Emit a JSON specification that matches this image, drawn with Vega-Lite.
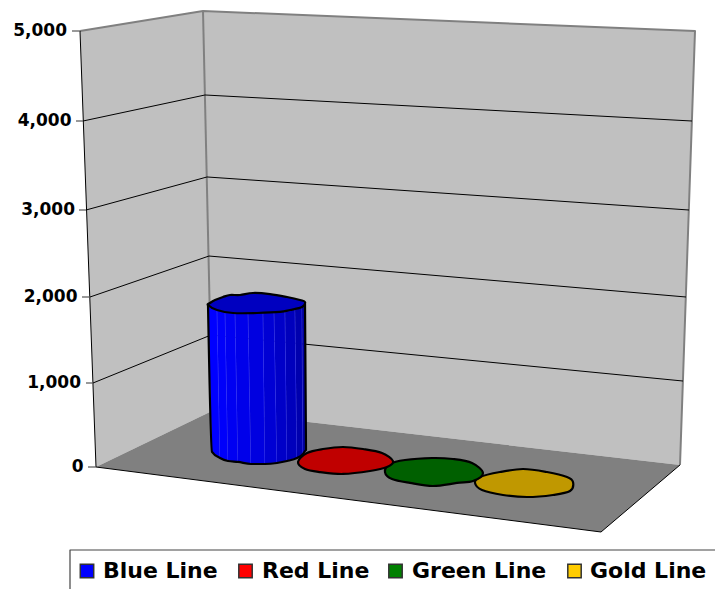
{"$schema":"https://vega.github.io/schema/vega-lite/v6.json","width":715,"height":589,"autosize":{"type":"fit","contains":"padding"},"padding":0,"background":"white","view":{"stroke":null},
"datasets":{"shapes":[
{"part":"wallL","style":"wall","x":80,"y":5000},{"part":"wallL","style":"wall","x":203,"y":5222},{"part":"wallL","style":"wall","x":212,"y":667},{"part":"wallL","style":"wall","x":96,"y":0},
{"part":"wallB","style":"wall","x":203,"y":5222},{"part":"wallB","style":"wall","x":695,"y":5000},{"part":"wallB","style":"wall","x":680,"y":24},{"part":"wallB","style":"wall","x":212,"y":667},
{"part":"floor","style":"floor","x":96,"y":0},{"part":"floor","style":"floor","x":212,"y":667},{"part":"floor","style":"floor","x":680,"y":24},{"part":"floor","style":"floor","x":601,"y":-774},
{"part":"edgeTop","style":"edge","x":80,"y":5000},{"part":"edgeTop","style":"edge","x":203,"y":5222},{"part":"edgeTop","style":"edge","x":695,"y":5000},{"part":"edgeTop","style":"edge","x":680,"y":24},
{"part":"edgeCorner","style":"edge","x":203,"y":5222},{"part":"edgeCorner","style":"edge","x":212,"y":667},
{"part":"g4","style":"line","x":83,"y":4000},{"part":"g4","style":"line","x":205,"y":4289},{"part":"g4","style":"line","x":692,"y":4000},
{"part":"g3","style":"line","x":86,"y":3000},{"part":"g3","style":"line","x":207,"y":3371},{"part":"g3","style":"line","x":689,"y":3000},
{"part":"g2","style":"line","x":90,"y":2000},{"part":"g2","style":"line","x":209,"y":2471},{"part":"g2","style":"line","x":686,"y":2000},
{"part":"g1","style":"line","x":93,"y":1000},{"part":"g1","style":"line","x":211,"y":1558},{"part":"g1","style":"line","x":683,"y":1023},
{"part":"frontL","style":"line","x":80,"y":5000},{"part":"frontL","style":"line","x":96,"y":0},{"part":"frontL","style":"line","x":601,"y":-774},{"part":"frontL","style":"line","x":680,"y":24},
{"part":"t5","style":"tick","x":72,"y":5000},{"part":"t5","style":"tick","x":80,"y":5000},
{"part":"t4","style":"tick","x":76,"y":4000},{"part":"t4","style":"tick","x":83,"y":4000},
{"part":"t3","style":"tick","x":79,"y":3000},{"part":"t3","style":"tick","x":86,"y":3000},
{"part":"t2","style":"tick","x":82,"y":2000},{"part":"t2","style":"tick","x":90,"y":2000},
{"part":"t1","style":"tick","x":86,"y":1000},{"part":"t1","style":"tick","x":93,"y":1000},
{"part":"t0","style":"tick","x":88,"y":0},{"part":"t0","style":"tick","x":96,"y":0},
{"part":"f0","style":"f0","x":208,"y":1907},{"part":"f0","style":"f0","x":217,"y":1907},{"part":"f0","style":"f0","x":220,"y":107},{"part":"f0","style":"f0","x":212,"y":179},
{"part":"f1","style":"f1","x":217,"y":1907},{"part":"f1","style":"f1","x":225,"y":1907},{"part":"f1","style":"f1","x":228,"y":71},{"part":"f1","style":"f1","x":220,"y":107},
{"part":"f2","style":"f2","x":225,"y":1907},{"part":"f2","style":"f2","x":235,"y":1907},{"part":"f2","style":"f2","x":238,"y":60},{"part":"f2","style":"f2","x":228,"y":71},
{"part":"f3","style":"f3","x":235,"y":1907},{"part":"f3","style":"f3","x":248,"y":1907},{"part":"f3","style":"f3","x":251,"y":36},{"part":"f3","style":"f3","x":238,"y":60},
{"part":"f4","style":"f4","x":248,"y":1907},{"part":"f4","style":"f4","x":263,"y":1907},{"part":"f4","style":"f4","x":265,"y":36},{"part":"f4","style":"f4","x":251,"y":36},
{"part":"f5","style":"f5","x":263,"y":1907},{"part":"f5","style":"f5","x":274,"y":1907},{"part":"f5","style":"f5","x":277,"y":48},{"part":"f5","style":"f5","x":265,"y":36},
{"part":"f6","style":"f6","x":274,"y":1907},{"part":"f6","style":"f6","x":285,"y":1907},{"part":"f6","style":"f6","x":287,"y":71},{"part":"f6","style":"f6","x":277,"y":48},
{"part":"f7","style":"f7","x":285,"y":1907},{"part":"f7","style":"f7","x":295,"y":1907},{"part":"f7","style":"f7","x":297,"y":107},{"part":"f7","style":"f7","x":287,"y":71},
{"part":"f8","style":"f8","x":295,"y":1907},{"part":"f8","style":"f8","x":302,"y":1907},{"part":"f8","style":"f8","x":303,"y":155},{"part":"f8","style":"f8","x":297,"y":107},
{"part":"f9","style":"f9","x":302,"y":1907},{"part":"f9","style":"f9","x":305,"y":1942},{"part":"f9","style":"f9","x":306,"y":202},{"part":"f9","style":"f9","x":303,"y":155},
{"part":"legendBox","style":"box","x":715,"y":-988},{"part":"legendBox","style":"box","x":70,"y":-988},{"part":"legendBox","style":"box","x":70,"y":-1452}
],
"bodyline":[
{"part":"blueOut","x":208,"y":1907},{"part":"blueOut","x":212,"y":179},{"part":"blueOut","x":220,"y":107},{"part":"blueOut","x":228,"y":71},{"part":"blueOut","x":238,"y":60},{"part":"blueOut","x":251,"y":36},{"part":"blueOut","x":265,"y":36},{"part":"blueOut","x":277,"y":48},{"part":"blueOut","x":287,"y":71},{"part":"blueOut","x":297,"y":107},{"part":"blueOut","x":303,"y":155},{"part":"blueOut","x":306,"y":202},{"part":"blueOut","x":305,"y":1942}
],
"blobs":[
{"part":"blueTop","style":"blueCap","x":208,"y":1907},{"part":"blueTop","style":"blueCap","x":210,"y":1930},{"part":"blueTop","style":"blueCap","x":215,"y":1965},{"part":"blueTop","style":"blueCap","x":223,"y":2000},{"part":"blueTop","style":"blueCap","x":230,"y":2023},{"part":"blueTop","style":"blueCap","x":240,"y":2023},{"part":"blueTop","style":"blueCap","x":253,"y":2046},{"part":"blueTop","style":"blueCap","x":270,"y":2034},{"part":"blueTop","style":"blueCap","x":287,"y":2000},{"part":"blueTop","style":"blueCap","x":300,"y":1965},{"part":"blueTop","style":"blueCap","x":305,"y":1942},{"part":"blueTop","style":"blueCap","x":302,"y":1884},{"part":"blueTop","style":"blueCap","x":290,"y":1849},{"part":"blueTop","style":"blueCap","x":280,"y":1826},{"part":"blueTop","style":"blueCap","x":257,"y":1814},{"part":"blueTop","style":"blueCap","x":233,"y":1814},{"part":"blueTop","style":"blueCap","x":217,"y":1849},
{"part":"gold","style":"gold","x":475,"y":-190},{"part":"gold","style":"gold","x":480,"y":-119},{"part":"gold","style":"gold","x":500,"y":-60},{"part":"gold","style":"gold","x":523,"y":-24},{"part":"gold","style":"gold","x":547,"y":-60},{"part":"gold","style":"gold","x":567,"y":-119},{"part":"gold","style":"gold","x":573,"y":-179},{"part":"gold","style":"gold","x":570,"y":-286},{"part":"gold","style":"gold","x":553,"y":-333},{"part":"gold","style":"gold","x":527,"y":-357},{"part":"gold","style":"gold","x":503,"y":-333},{"part":"gold","style":"gold","x":482,"y":-274},
{"part":"green","style":"green","x":385,"y":-60},{"part":"green","style":"green","x":390,"y":36},{"part":"green","style":"green","x":405,"y":83},{"part":"green","style":"green","x":432,"y":107},{"part":"green","style":"green","x":453,"y":95},{"part":"green","style":"green","x":472,"y":48},{"part":"green","style":"green","x":483,"y":-71},{"part":"green","style":"green","x":473,"y":-167},{"part":"green","style":"green","x":457,"y":-190},{"part":"green","style":"green","x":433,"y":-226},{"part":"green","style":"green","x":410,"y":-190},{"part":"green","style":"green","x":392,"y":-143},
{"part":"red","style":"red","x":298,"y":60},{"part":"red","style":"red","x":307,"y":167},{"part":"red","style":"red","x":323,"y":214},{"part":"red","style":"red","x":343,"y":238},{"part":"red","style":"red","x":363,"y":214},{"part":"red","style":"red","x":382,"y":167},{"part":"red","style":"red","x":393,"y":71},{"part":"red","style":"red","x":387,"y":0},{"part":"red","style":"red","x":370,"y":-48},{"part":"red","style":"red","x":343,"y":-83},{"part":"red","style":"red","x":320,"y":-60},{"part":"red","style":"red","x":305,"y":-24}
],
"ticks":[{"label":"5,000","x":67,"y":5000},{"label":"4,000","x":71.5,"y":4000},{"label":"3,000","x":75,"y":3000},{"label":"2,000","x":77.5,"y":2000},{"label":"1,000","x":81,"y":1000},{"label":"0","x":83.5,"y":0}],
"legend":[{"series":"Blue Line","sx":87,"tx":103,"y":-1238},{"series":"Red Line","sx":245.5,"tx":262,"y":-1238},{"series":"Green Line","sx":395.5,"tx":412,"y":-1238},{"series":"Gold Line","sx":574.5,"tx":590,"y":-1238}]},
"layer":[
{"data":{"name":"shapes"},"mark":{"type":"line","interpolate":"linear","strokeJoin":"round","clip":false},
"encoding":{
"x":{"field":"x","type":"quantitative","scale":{"domain":[0,715],"range":[0,715]},"axis":null},
"y":{"field":"y","type":"quantitative","scale":{"domain":[-1452,-774,0,1000,2000,3000,4000,5000,5344],"range":[589,532,467,383,297,210,121,31,0]},"axis":null},
"detail":{"field":"part"},
"order":{"value":null},
"fill":{"field":"style","type":"nominal","legend":null,"scale":{"domain":["wall","floor","edge","line","tick","box","f0","f1","f2","f3","f4","f5","f6","f7","f8","f9"],"range":["#c0c0c0","#808080","transparent","transparent","transparent","transparent","#0000ff","#0000fa","#0000f2","#0000ea","#0000e0","#0000d4","#0000c8","#0000bc","#0000ae","#0000a0"]}},
"stroke":{"field":"style","type":"nominal","legend":null,"scale":{"domain":["wall","floor","edge","line","tick","box","f0","f1","f2","f3","f4","f5","f6","f7","f8","f9"],"range":["transparent","transparent","#808080","#000000","#555555","#444444","#4a4aff","#4a4aff","#4a4aff","#4a4aff","#4a4aff","#4a4aff","#4a4aff","#4a4aff","#4a4aff","#4a4aff"]}},
"strokeWidth":{"field":"style","type":"nominal","legend":null,"scale":{"type":"ordinal","domain":["wall","floor","edge","line","tick","box","f0","f1","f2","f3","f4","f5","f6","f7","f8","f9"],"range":[0,0,2,1,1.2,1.2,0.7,0.7,0.7,0.7,0.7,0.7,0.7,0.7,0.7,0.7]}}
}},
{"data":{"name":"bodyline"},"mark":{"type":"line","interpolate":"monotone","stroke":"#000000","strokeWidth":2.2,"strokeJoin":"round"},
"encoding":{
"x":{"field":"x","type":"quantitative","scale":{"domain":[0,715],"range":[0,715]},"axis":null},
"y":{"field":"y","type":"quantitative","scale":{"domain":[-1452,-774,0,1000,2000,3000,4000,5000,5344],"range":[589,532,467,383,297,210,121,31,0]},"axis":null},
"detail":{"field":"part"},"order":{"value":null}}},
{"data":{"name":"blobs"},"mark":{"type":"line","interpolate":"cardinal-closed","stroke":"#000000","strokeWidth":2.2,"strokeJoin":"round"},
"encoding":{
"x":{"field":"x","type":"quantitative","scale":{"domain":[0,715],"range":[0,715]},"axis":null},
"y":{"field":"y","type":"quantitative","scale":{"domain":[-1452,-774,0,1000,2000,3000,4000,5000,5344],"range":[589,532,467,383,297,210,121,31,0]},"axis":null},
"detail":{"field":"part"},"order":{"value":null},
"fill":{"field":"style","type":"nominal","legend":null,"scale":{"domain":["blueCap","gold","green","red"],"range":["#0000c0","#c09800","#006000","#c00000"]}}
}},
{"data":{"name":"ticks"},"mark":{"type":"text","font":"DejaVu Sans","fontWeight":"bold","fontSize":17,"align":"right","baseline":"middle","dy":-0.5,"color":"#000000"},
"encoding":{"x":{"field":"x","type":"quantitative","scale":{"domain":[0,715],"range":[0,715]},"axis":null},"y":{"field":"y","type":"quantitative","scale":{"domain":[-1452,-774,0,1000,2000,3000,4000,5000,5344],"range":[589,532,467,383,297,210,121,31,0]},"axis":null},"text":{"field":"label"}}},
{"data":{"name":"legend"},"mark":{"type":"point","shape":"square","filled":true,"size":180,"stroke":"#333333","strokeWidth":1.5,"opacity":1},
"encoding":{"x":{"field":"sx","type":"quantitative","scale":{"domain":[0,715],"range":[0,715]},"axis":null},"y":{"field":"y","type":"quantitative","scale":{"domain":[-1452,-774,0,1000,2000,3000,4000,5000,5344],"range":[589,532,467,383,297,210,121,31,0]},"axis":null},"fill":{"field":"series","type":"nominal","legend":null,"scale":{"domain":["Blue Line","Red Line","Green Line","Gold Line"],"range":["#0000ff","#ff0000","#008000","#ffcc00"]}}}},
{"data":{"name":"legend"},"mark":{"type":"text","font":"DejaVu Sans","fontWeight":"bold","fontSize":22,"align":"left","baseline":"middle","color":"#000000"},
"encoding":{"x":{"field":"tx","type":"quantitative","scale":{"domain":[0,715],"range":[0,715]},"axis":null},"y":{"field":"y","type":"quantitative","scale":{"domain":[-1452,-774,0,1000,2000,3000,4000,5000,5344],"range":[589,532,467,383,297,210,121,31,0]},"axis":null},"text":{"field":"series"}}}
],
"resolve":{"scale":{"fill":"independent","stroke":"independent"}}}
